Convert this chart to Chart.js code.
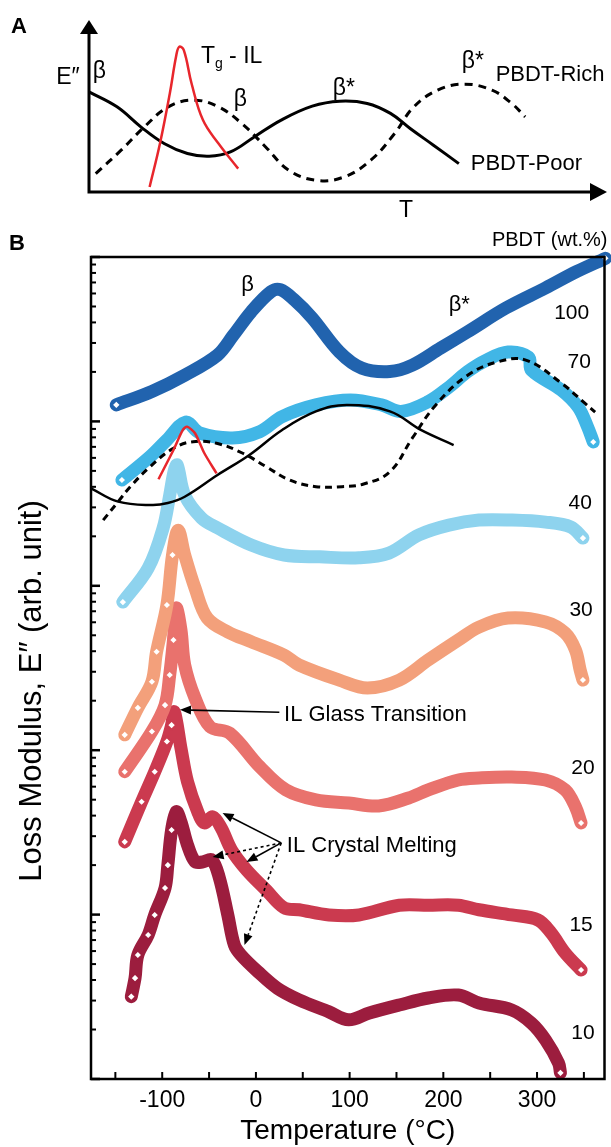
<!DOCTYPE html>
<html>
<head>
<meta charset="utf-8">
<script src="https://cdn.jsdelivr.net/npm/chart.js@4.4.1/dist/chart.umd.min.js"></script>
<style>
body { margin: 0; background: #fff; }
#wrap { position: relative; width: 611px; height: 1147px; }
canvas { position: absolute; left: 0; top: 0; }
</style>
</head>
<body>
<div id="wrap">
<canvas id="chartB" width="611" height="1147"></canvas>
<canvas id="chartA" width="611" height="222"></canvas>
</div>
<script>
// ---- panel B data: temperature (°C) and loss modulus E'' (arb. unit) ----
const t100 = [-149, -111, -76, -41, -24, -5, 16, 26, 41, 60, 89, 113, 143, 167, 197, 226, 267, 309, 342, 373];
const e100 = [12600, 15200, 19100, 25300, 33500, 46500, 61500, 63300, 54800, 42600, 26500, 21100, 20100, 22000, 27900, 35100, 49000, 64800, 81400, 98200];

const t70 = [-143, -113, -95, -75, -60, -25, 4, 28, 64, 101, 134, 155, 184, 205, 226, 246, 269, 291, 294, 326, 344, 354, 360];
const e70 = [4400, 6100, 7710, 9900, 8500, 7930, 8650, 10700, 12600, 13500, 12600, 11500, 13200, 16000, 20100, 23600, 26400, 24600, 20500, 15500, 12200, 9250, 7500];

const t40 = [-142, -115, -99, -92, -87, -84, -76, -58, -41, -5, 30, 68, 110, 142, 174, 206, 238, 273, 309, 336, 349];
const e40 = [796, 1280, 2250, 3560, 5060, 5430, 3560, 2580, 2250, 1770, 1540, 1500, 1480, 1580, 2040, 2340, 2510, 2510, 2440, 2280, 1950];

const t30 = [-140, -126, -111, -106, -95, -89, -83, -76, -65, -52, -30, -5, 30, 46, 89, 119, 153, 184, 216, 238, 269, 309, 330, 341, 346, 349];
const e30 = [124, 181, 261, 397, 764, 1540, 2180, 1540, 970, 637, 524, 457, 379, 330, 267, 239, 267, 354, 468, 561, 637, 603, 516, 407, 308, 267];

const t20 = [-140, -111, -97, -92, -88, -85, -80, -76, -65, -49, -28, 4, 32, 64, 99, 131, 163, 184, 216, 238, 273, 309, 330, 341, 347];
const e20 = [74, 130, 188, 287, 468, 733, 538, 330, 208, 139, 127, 79.4, 57.3, 49.8, 47.7, 45.8, 51.2, 57.3, 65.9, 67.8, 68.7, 65.9, 57.3, 45.2, 36.1];

const t15 = [-140, -122, -108, -95, -90, -87, -80, -73, -62, -55, -46, -37, -26, -10, 11, 30, 46, 78, 110, 153, 184, 216, 238, 273, 301, 315, 330, 347];
const e15 = [27.7, 48.6, 74, 113, 142, 171, 103, 64.3, 42.1, 36.1, 39.3, 33.6, 24.7, 18.7, 14.1, 11.0, 10.7, 9.95, 9.95, 11.4, 11.4, 11.4, 10.7, 9.95, 9.27, 7.73, 5.84, 4.60];

const t10 = [-133, -129, -126, -115, -108, -97, -94, -90, -85, -80, -73, -65, -57, -47, -39, -30, -23, -16, 2, 23, 46, 78, 99, 121, 153, 184, 216, 238, 273, 294, 309, 323, 325];
const e10 = [3.17, 4.11, 5.68, 7.52, 9.95, 14.5, 20.0, 32.7, 42.3, 36.7, 26.5, 21.0, 20.9, 21.5, 16.7, 9.95, 6.53, 5.68, 4.50, 3.56, 3.03, 2.56, 2.29, 2.52, 2.82, 3.11, 3.24, 2.90, 2.63, 2.19, 1.73, 1.25, 1.09];

// schematic overlays in panel B
const tRich = [-163, -147, -134, -113, -88, -67, -42, -14, 11, 36, 64, 92, 115, 143, 167, 192, 226, 259, 288, 326, 351, 362];
const eRich = [2510, 3250, 4010, 5300, 6860, 7530, 7360, 6400, 5300, 4400, 4010, 4010, 4160, 4940, 7930, 12600, 19100, 23100, 23600, 17100, 12900, 11400];
const tPoor = [-176, -147, -111, -94, -76, -41, -7, 28, 64, 97, 143, 176, 211];
const ePoor = [3920, 3250, 3100, 3190, 3480, 4720, 6250, 8870, 11500, 12600, 11500, 8870, 7180];
const tTg = [-104, -88, -78, -73.5, -65, -55, -42];
const eTg = [4450, 6700, 8870, 9290, 8470, 6400, 4830];

const seriesNames = ['100', '70', '40', '30', '20', '15', '10'];
const xTicks = [-150, -100, -50, 0, 50, 100, 150, 200, 250, 300, 350];
const xTickLabels = [-100, 0, 100, 200, 300];

// ---- panel A schematic (arbitrary units 0..100) ----
const aPoorX = [0, 5.4, 10.0, 14.5, 19.0, 23.2, 27.3, 31.9, 37.1, 43.1, 48.4, 53.7, 58.2, 62.0, 66.5, 71.4];
const aPoorY = [58.2, 49.5, 37.9, 28.2, 22.4, 20.8, 23.3, 32.0, 41.8, 49.9, 52.8, 51.5, 45.7, 36.9, 27.2, 16.5];
const aRichX = [1.3, 6.2, 10.7, 15.3, 20.2, 25.0, 29.5, 34.1, 38.6, 43.9, 49.2, 54.4, 59.0, 62.7, 67.3, 72.5, 77.8, 81.6, 84.2];
const aRichY = [10.7, 24.3, 37.9, 49.5, 53.4, 49.5, 39.8, 26.2, 12.6, 6.8, 8.7, 18.5, 34.0, 49.5, 59.2, 62.7, 59.2, 51.5, 43.7];
const aTgX = [11.7, 13.7, 15.6, 16.8, 17.4, 18.3, 19.8, 22.0, 25.0, 28.8];
const aTgY = [2.9, 28.2, 57.3, 78.6, 84.4, 82.5, 63.1, 41.8, 28.2, 13.6];

const fam = '"Liberation Sans", Arial, Helvetica, sans-serif';

function pts(xs, ys) { return xs.map((v, i) => ({x: v, y: ys[i]})); }

// thick band of overlapping markers; open diamonds on the rising low-T side if marked
function band(name, xs, ys, color, markRise) {
  const n = xs.length;
  const peak = ys.indexOf(Math.max(...ys));
  return {
    label: name,
    data: pts(xs, ys),
    borderColor: color,
    borderWidth: 13,
    borderCapStyle: 'round',
    borderJoinStyle: 'round',
    tension: 0.35,
    pointStyle: 'rectRot',
    pointRadius: c => (c.dataIndex === 0 || c.dataIndex === n - 1 || (markRise && c.dataIndex < peak)) ? 4.5 : 0,
    pointBackgroundColor: '#fff',
    pointBorderColor: color,
    pointBorderWidth: 2,
    clip: false
  };
}

function arrow(ctx, x1, y1, x2, y2, dashed) {
  ctx.save();
  ctx.strokeStyle = '#000';
  ctx.fillStyle = '#000';
  ctx.lineWidth = 1.6;
  const ang = Math.atan2(y2 - y1, x2 - x1);
  const hl = 11, hw = 4.5;
  const bx = x2 - hl * Math.cos(ang), by = y2 - hl * Math.sin(ang);
  if (dashed) ctx.setLineDash([3, 3]);
  ctx.beginPath(); ctx.moveTo(x1, y1); ctx.lineTo(bx, by); ctx.stroke();
  ctx.setLineDash([]);
  ctx.beginPath();
  ctx.moveTo(x2, y2);
  ctx.lineTo(bx + hw * Math.sin(ang), by - hw * Math.cos(ang));
  ctx.lineTo(bx - hw * Math.sin(ang), by + hw * Math.cos(ang));
  ctx.closePath(); ctx.fill();
  ctx.restore();
}

const panelB = {
  id: 'panelB',
  afterDatasetsDraw(chart) {
    const {ctx, chartArea: a, scales: {x, y}} = chart;
    const X = v => x.getPixelForValue(v), Y = v => y.getPixelForValue(v);
    ctx.save();
    ctx.strokeStyle = '#000';
    ctx.fillStyle = '#000';
    // frame
    ctx.lineWidth = 2.5;
    ctx.strokeRect(a.left, a.top, a.right - a.left, a.bottom - a.top);
    // x ticks (inside)
    ctx.lineWidth = 2;
    xTicks.forEach(v => {
      ctx.beginPath(); ctx.moveTo(X(v), a.bottom); ctx.lineTo(X(v), a.bottom - 7); ctx.stroke();
    });
    // y log ticks (inside)
    for (let k = 0; k <= 5; k++) {
      for (let m = 1; m <= 9; m++) {
        const v = m * Math.pow(10, k);
        if (v > 100000) break;
        const py = Y(v);
        ctx.lineWidth = m === 1 ? 2.5 : 2;
        ctx.beginPath(); ctx.moveTo(a.left, py); ctx.lineTo(a.left + (m === 1 ? 9 : 5), py); ctx.stroke();
      }
    }
    // tick labels
    ctx.font = '23px ' + fam;
    ctx.textAlign = 'center';
    ctx.textBaseline = 'middle';
    xTickLabels.forEach(v => ctx.fillText(String(v), X(v), a.bottom + 22));
    ctx.font = '28px ' + fam;
    ctx.fillText('Temperature (°C)', (a.left + a.right) / 2, a.bottom + 52);
    ctx.save();
    ctx.translate(32, 691);
    ctx.rotate(-Math.PI / 2);
    ctx.font = '31px ' + fam;
    ctx.fillText('Loss Modulus, E\u2033 (arb. unit)', 0, 0);
    ctx.restore();
    // panel letter + header
    ctx.font = 'bold 22px ' + fam;
    ctx.textAlign = 'left';
    ctx.fillText('B', 9, 244);
    ctx.font = '20px ' + fam;
    ctx.textAlign = 'right';
    ctx.fillText('PBDT (wt.%)', a.right + 3, a.top - 17);
    // series labels
    ctx.font = '21px ' + fam;
    ctx.textAlign = 'center';
    const labT = [337, 345, 346, 347, 349, 347, 349];
    const labE = [45600, 23000, 3190, 713, 78, 8.65, 1.91];
    seriesNames.forEach((s, i) => ctx.fillText(s, X(labT[i]), Y(labE[i])));
    ctx.font = '22px ' + fam;
    ctx.fillText('β', X(-9), Y(67600));
    ctx.fillText('β*', X(217), Y(51100));
    // annotations
    ctx.font = '22px ' + fam;
    ctx.textAlign = 'left';
    ctx.fillText('IL Glass Transition', X(30), Y(164));
    arrow(ctx, X(25), Y(170), X(-81), Y(176), false);
    ctx.fillText('IL Crystal Melting', X(33), Y(26.1));
    const ox = X(27), oy = Y(27.3);
    arrow(ctx, ox, oy, X(-35.6), Y(41.5), false);
    arrow(ctx, ox, oy, X(-10.1), Y(20.9), false);
    arrow(ctx, ox, oy, X(-46.2), Y(22.4), true);
    arrow(ctx, ox, oy, X(-12.2), Y(6.53), true);
    ctx.restore();
  }
};

new Chart(document.getElementById('chartB'), {
  type: 'line',
  data: {
    datasets: [
      {label: 'Tg-IL', data: pts(tTg, eTg), borderColor: '#E8262C', borderWidth: 2.5, tension: 0.25, pointRadius: 0, clip: false},
      {label: 'PBDT-Poor', data: pts(tPoor, ePoor), borderColor: '#000', borderWidth: 2.5, tension: 0.4, pointRadius: 0, clip: false},
      {label: 'PBDT-Rich', data: pts(tRich, eRich), borderColor: '#000', borderWidth: 3, borderDash: [7, 5], tension: 0.4, pointRadius: 0, clip: false},
      band('100', t100, e100, '#2163AE', false),
      band('70', t70, e70, '#41B6E6', false),
      band('40', t40, e40, '#8ED3EE', false),
      band('30', t30, e30, '#F3A07B', true),
      band('20', t20, e20, '#E9726D', true),
      band('15', t15, e15, '#CB3A4F', true),
      band('10', t10, e10, '#9C1D3E', true)
    ]
  },
  options: {
    responsive: false,
    animation: false,
    layout: {padding: {left: 91, right: 5, top: 257, bottom: 68}},
    plugins: {legend: {display: false}, tooltip: {enabled: false}},
    scales: {
      x: {type: 'linear', min: -176, max: 372, display: false},
      y: {type: 'logarithmic', min: 1, max: 100000, display: false}
    }
  },
  plugins: [panelB]
});

const panelA = {
  id: 'panelA',
  afterDatasetsDraw(chart) {
    const {ctx, chartArea: a, scales: {x, y}} = chart;
    const X = v => x.getPixelForValue(v), Y = v => y.getPixelForValue(v);
    ctx.save();
    ctx.strokeStyle = '#000';
    ctx.fillStyle = '#000';
    ctx.lineWidth = 3;
    ctx.beginPath();
    ctx.moveTo(a.left, a.top + 10); ctx.lineTo(a.left, a.bottom); ctx.lineTo(a.right - 12, a.bottom);
    ctx.stroke();
    ctx.beginPath();
    ctx.moveTo(a.left, a.top); ctx.lineTo(a.left - 9, a.top + 14); ctx.lineTo(a.left + 9, a.top + 14); ctx.closePath(); ctx.fill();
    ctx.beginPath();
    ctx.moveTo(a.right, a.bottom); ctx.lineTo(a.right - 17, a.bottom - 9); ctx.lineTo(a.right - 17, a.bottom + 9); ctx.closePath(); ctx.fill();
    ctx.textBaseline = 'middle';
    ctx.font = 'bold 22px ' + fam;
    ctx.textAlign = 'left';
    ctx.fillText('A', 11, 27);
    ctx.font = '23px ' + fam;
    ctx.textAlign = 'center';
    ctx.fillText('E\u2033', 68, 78);
    ctx.fillText('T', X(61.2), a.bottom + 19);
    ctx.fillText('β', X(2.0), Y(69.9));
    ctx.fillText('β', X(29.2), Y(53.4));
    ctx.fillText('β*', X(49.2), Y(60.2));
    ctx.fillText('β*', X(74.1), Y(75.7));
    ctx.textAlign = 'left';
    let tx = X(21.6);
    const ty = Y(78.4);
    ctx.fillText('T', tx, ty);
    tx += ctx.measureText('T').width;
    ctx.font = '14px ' + fam;
    ctx.fillText('g', tx, ty + 7);
    tx += ctx.measureText('g').width;
    ctx.font = '23px ' + fam;
    ctx.fillText(' - IL', tx, ty);
    ctx.font = '22px ' + fam;
    ctx.fillText('PBDT-Rich', X(78.5), Y(68.0));
    ctx.fillText('PBDT-Poor', X(73.7), Y(16.5));
    ctx.restore();
  }
};

new Chart(document.getElementById('chartA'), {
  type: 'line',
  data: {
    datasets: [
      {label: 'Tg - IL', data: pts(aTgX, aTgY), borderColor: '#E8262C', borderWidth: 2.5, tension: 0.4, pointRadius: 0, clip: false},
      {label: 'PBDT-Poor', data: pts(aPoorX, aPoorY), borderColor: '#000', borderWidth: 3, tension: 0.4, pointRadius: 0, clip: false},
      {label: 'PBDT-Rich', data: pts(aRichX, aRichY), borderColor: '#000', borderWidth: 3, borderDash: [8, 6], tension: 0.4, pointRadius: 0, clip: false}
    ]
  },
  options: {
    responsive: false,
    animation: false,
    layout: {padding: {left: 89, right: 4, top: 20, bottom: 30}},
    plugins: {legend: {display: false}, tooltip: {enabled: false}},
    scales: {
      x: {type: 'linear', min: 0, max: 100, display: false},
      y: {type: 'linear', min: 0, max: 100, display: false}
    }
  },
  plugins: [panelA]
});
</script>
</body>
</html>
